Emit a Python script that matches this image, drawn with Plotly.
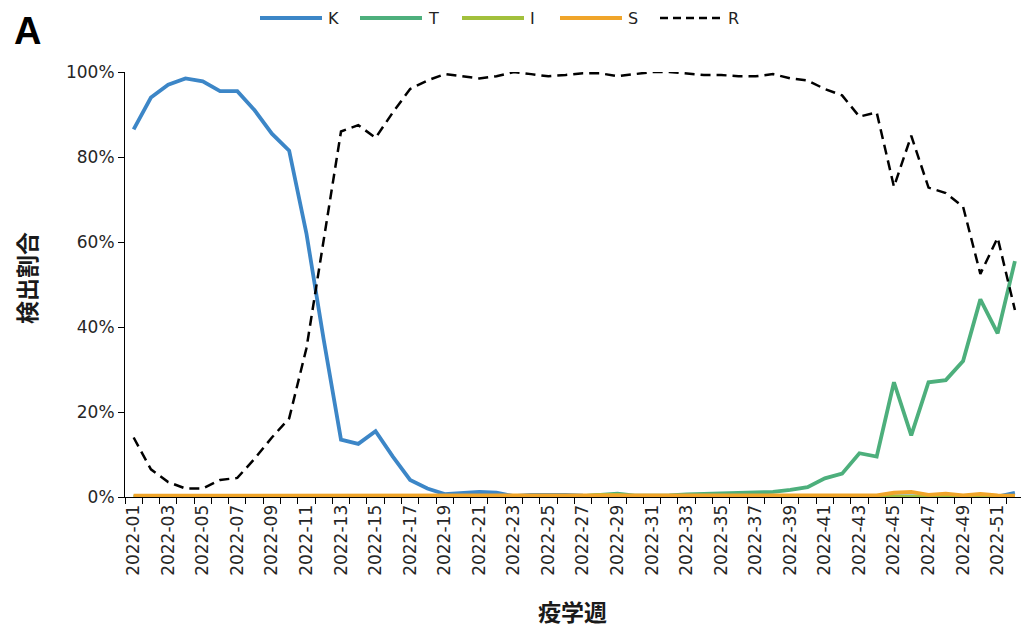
import plotly.graph_objects as go

weeks = [f"2022-{w:02d}" for w in range(1, 53)]

K = [86.5, 94.0, 97.0, 98.5, 97.8, 95.5, 95.5, 91.0, 85.5, 81.5,
     62.0, 37.0, 13.5, 12.5, 15.5, 9.5, 4.0, 2.0, 0.7, 0.9,
     1.2, 1.0, 0.2, 0.5, 0.6, 0.5, 0.3, 0.3, 0.3, 0.2,
     0.2, 0.2, 0.2, 0.2, 0.3, 0.2, 0.2, 0.1, 0.1, 0.1,
     0.1, 0.1, 0.1, 0.1, 0.1, 0.1, 0.1, 0.1, 0.1, 0.1,
     0.1, 1.0]
T = [0.1, 0.1, 0.1, 0.1, 0.1, 0.1, 0.1, 0.1, 0.1, 0.1,
     0.1, 0.1, 0.1, 0.1, 0.1, 0.1, 0.1, 0.1, 0.1, 0.1,
     0.1, 0.1, 0.1, 0.1, 0.2, 0.2, 0.2, 0.5, 0.8, 0.3,
     0.3, 0.4, 0.6, 0.7, 0.8, 0.8, 0.9, 1.2, 1.7, 2.3,
     4.4, 5.5, 10.3, 9.5, 27.0, 14.5, 27.0, 27.5, 32.0, 46.5,
     38.5, 55.5]
I = [0.1, 0.1, 0.1, 0.1, 0.1, 0.1, 0.1, 0.1, 0.1, 0.1,
     0.1, 0.1, 0.1, 0.1, 0.1, 0.1, 0.1, 0.1, 0.1, 0.1,
     0.1, 0.1, 0.1, 0.1, 0.1, 0.1, 0.2, 0.5, 0.5, 0.1,
     0.1, 0.1, 0.1, 0.1, 0.1, 0.1, 0.1, 0.1, 0.1, 0.1,
     0.1, 0.1, 0.1, 0.1, 0.2, 0.3, 0.1, 0.2, 0.1, 0.2,
     0.1, 0.1]
S = [0.3, 0.3, 0.3, 0.3, 0.3, 0.3, 0.3, 0.3, 0.3, 0.3,
     0.3, 0.3, 0.3, 0.3, 0.3, 0.3, 0.3, 0.3, 0.3, 0.3,
     0.3, 0.3, 0.3, 0.3, 0.3, 0.3, 0.3, 0.3, 0.3, 0.3,
     0.3, 0.3, 0.3, 0.3, 0.3, 0.3, 0.3, 0.3, 0.3, 0.3,
     0.3, 0.3, 0.3, 0.4, 1.0, 1.2, 0.5, 0.8, 0.4, 0.7,
     0.4, 0.3]
R = [14.0, 6.5, 3.5, 2.0, 2.0, 4.0, 4.5, 9.0, 14.0, 18.5,
     35.0, 61.0, 86.0, 87.5, 84.5, 90.5, 96.0, 98.0, 99.5, 99.0,
     98.5, 99.0, 100.0, 99.5, 99.0, 99.3, 99.7, 99.7, 99.0, 99.5,
     100.0, 100.0, 99.7, 99.3, 99.3, 99.0, 99.0, 99.5, 98.5, 98.0,
     96.0, 94.5, 89.5, 90.5, 73.0, 85.0, 72.8, 71.5, 68.3, 52.5,
     61.0, 44.0]

y_ticks = [0, 20, 40, 60, 80, 100]

series = [
    ("K", K, "#3C86C7", "solid", 3.8),
    ("T", T, "#4DAF7C", "solid", 3.8),
    ("I", I, "#A2C03C", "solid", 3.8),
    ("S", S, "#F0A52A", "solid", 3.8),
    ("R", R, "#000000", "10px,6px", 2.5),
]

x = list(range(1, len(weeks) + 1))

TICK_FONT = dict(family="DejaVu Sans, Verdana", size=17, color="#262626")

fig = go.Figure()
for name, vals, color, dash, width in series:
    fig.add_trace(go.Scatter(
        x=x, y=vals, mode="lines", name=name,
        line=dict(color=color, width=width, dash=dash),
        showlegend=False,
    ))

# plot-area geometry (pixels) for placing the custom legend and titles
L, Rr, T0, B0 = 125, 1021, 72, 497
W, H = Rr - L, B0 - T0

def px(xp):
    return (xp - L) / W

def py(yp):
    return (B0 - yp) / H

legend_starts = [260, 360, 462, 560, 660]
shapes = []
annotations = []
for (name, vals, color, dash, width), s in zip(series, legend_starts):
    shapes.append(dict(type="line", xref="paper", yref="paper",
                       x0=px(s), x1=px(s + 62), y0=py(18), y1=py(18),
                       line=dict(color=color, width=width if name != "R" else 2.5,
                                 dash="solid" if name != "R" else "8px,5px")))
    annotations.append(dict(text=name, xref="paper", yref="paper",
                            x=px(s + 66), y=py(19), xanchor="left", yanchor="middle",
                            showarrow=False,
                            font=dict(family="DejaVu Sans, Verdana", size=16, color="#222")))

annotations.append(dict(text="<b>A</b>", xref="paper", yref="paper",
                        x=px(12), y=py(31), xanchor="left", yanchor="middle",
                        showarrow=False,
                        font=dict(family="Liberation Sans, Arial", size=38, color="#000")))
annotations.append(dict(text="<b>検出割合</b>", xref="paper", yref="paper",
                        x=px(26), y=py(278), xanchor="center", yanchor="middle",
                        textangle=-90, showarrow=False,
                        font=dict(family="Noto Sans CJK JP", size=23, color="#1a1a1a")))
annotations.append(dict(text="<b>疫学週</b>", xref="paper", yref="paper",
                        x=px(572), y=py(611), xanchor="center", yanchor="middle",
                        showarrow=False,
                        font=dict(family="Noto Sans CJK JP", size=23, color="#1a1a1a")))

fig.update_layout(
    width=1021, height=632,
    margin=dict(l=L, r=0, t=T0, b=632 - B0),
    plot_bgcolor="white", paper_bgcolor="white",
    shapes=shapes, annotations=annotations,
    font=dict(family="DejaVu Sans, Verdana", size=15, color="#262626"),
)

fig.update_xaxes(
    range=[0.5, 0.5 + W / 17.28],
    tickmode="array",
    tickvals=x[::2], ticktext=weeks[::2],
    tickangle=-90, ticks="", ticklen=0,
    tickfont=TICK_FONT,
    showline=True, linecolor="black", linewidth=1,
    showgrid=False, zeroline=False, layer="below traces",
    minor=dict(tickmode="array", tickvals=[v + 0.5 for v in range(0, len(weeks) + 1)],
               ticks="outside", ticklen=6, tickcolor="black", tickwidth=1, showgrid=False),
)

fig.update_yaxes(
    range=[0, 100],
    tickmode="array", tickvals=y_ticks, ticktext=[f"{v}%" for v in y_ticks],
    ticks="outside", ticklen=6, tickcolor="black",
    tickfont=TICK_FONT,
    showline=True, linecolor="black", linewidth=1,
    showgrid=False, zeroline=False, layer="below traces",
)

fig.write_html("out.html")
